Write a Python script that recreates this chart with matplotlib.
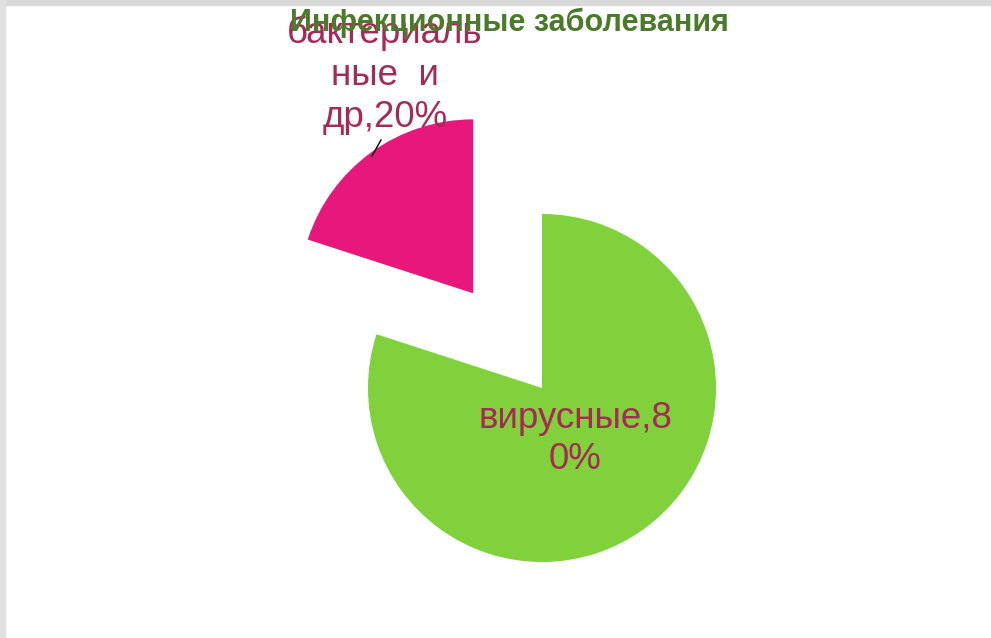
import matplotlib.pyplot as plt
from matplotlib.patches import Rectangle

# pie data
categories = ['вирусные', 'бактериальные  и др']
shares = [80, 20]
label_texts = ['вирусные,8\n0%', 'бактериаль\nные  и\nдр,20%']
colors = ['#80d13b', '#e8177b']
title = 'Инфекционные заболевания'

W, H = 991, 638
fig = plt.figure(figsize=(W / 100, H / 100), dpi=100)
ax = fig.add_axes([0, 0, 1, 1])

# thin grey frame on top and left
fig.patches.append(Rectangle((0, 1 - 5 / H), 1, 5 / H, transform=fig.transFigure,
                             color='#d9d9d9', zorder=0))
fig.patches.append(Rectangle((0, 0), 5 / W, 1, transform=fig.transFigure,
                             color='#e0e0e0', zorder=0))

cx, cy, r = 542, H - 388, 174
# explode is in data units here (pixels)
wedges, _ = ax.pie(shares, colors=colors, startangle=90, counterclock=False,
                   explode=[0, 117], center=(cx, cy), radius=r,
                   wedgeprops=dict(linewidth=0))
ax.set_xlim(0, W)
ax.set_ylim(0, H)
ax.set_aspect('equal')
ax.axis('off')

lbl_color = '#a52a55'
ax.text(575, H - 439, label_texts[0], ha='center', va='center', fontsize=26.5,
        color=lbl_color, linespacing=1.2, family='Liberation Sans')
ax.text(385, H - 75, label_texts[1], ha='center', va='center', fontsize=26.5,
        color=lbl_color, linespacing=1.27, family='Liberation Sans')
ax.plot([372, 381], [H - 156, H - 140], color='black', lw=1)

ax.text(509, H - 23, title, ha='center', va='center', fontsize=22, fontweight='bold',
        color='#4b7a2b', family='Liberation Sans')

fig.savefig('out.png', dpi=100)
